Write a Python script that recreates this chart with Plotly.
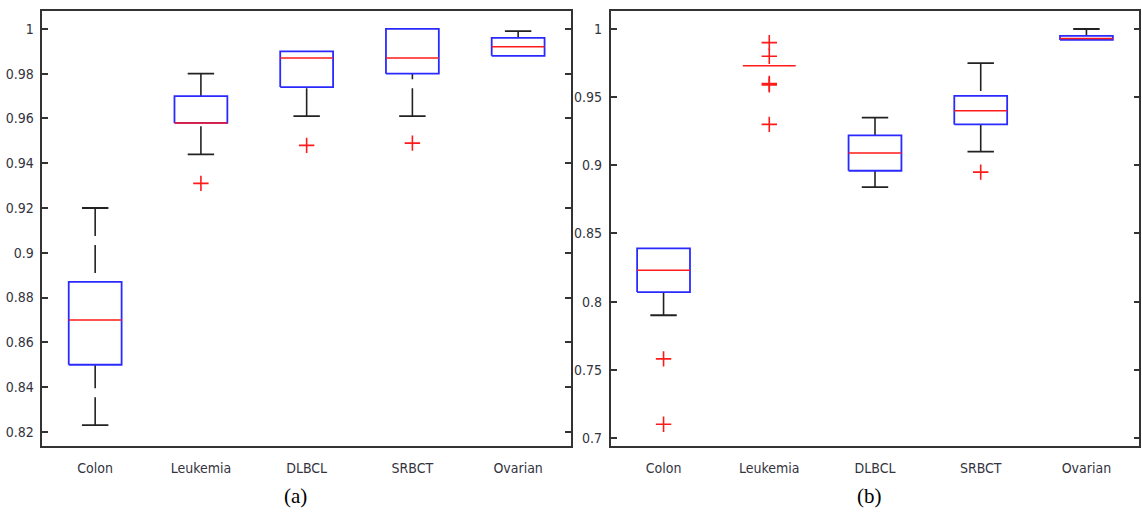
import plotly.graph_objects as go

categories = ["Colon", "Leukemia", "DLBCL", "SRBCT", "Ovarian"]

# Panel (a)
a_lo = [0.823, 0.944, 0.961, 0.961, 0.988]
a_q1 = [0.850, 0.958, 0.974, 0.980, 0.988]
a_med = [0.870, 0.958, 0.987, 0.987, 0.992]
a_q3 = [0.887, 0.970, 0.990, 1.000, 0.996]
a_hi = [0.920, 0.980, 0.990, 1.000, 0.999]
a_out = [[], [0.931], [0.948], [0.949], []]

# Panel (b)
b_lo = [0.790, 0.973, 0.884, 0.910, 0.992]
b_q1 = [0.807, 0.973, 0.896, 0.930, 0.992]
b_med = [0.823, 0.973, 0.909, 0.940, 0.993]
b_q3 = [0.839, 0.973, 0.922, 0.951, 0.995]
b_hi = [0.839, 0.973, 0.935, 0.975, 1.000]
b_out = [[0.758, 0.710], [0.990, 0.980, 0.960, 0.959, 0.930], [], [0.895], []]

a_ticks = [0.82, 0.84, 0.86, 0.88, 0.90, 0.92, 0.94, 0.96, 0.98, 1.00]
a_ticktext = ["0.82", "0.84", "0.86", "0.88", "0.9", "0.92", "0.94", "0.96", "0.98", "1"]
b_ticks = [0.70, 0.75, 0.80, 0.85, 0.90, 0.95, 1.00]
b_ticktext = ["0.7", "0.75", "0.8", "0.85", "0.9", "0.95", "1"]

BOX_HALF = 0.25
CAP_HALF = 0.125
BLUE = "#2a2aff"
RED = "#ff1a1a"
BLACK = "#222222"
TICKFONT = dict(family="DejaVu Sans Condensed, Liberation Sans Narrow, Arial Narrow, sans-serif",
                size=14, color="#333340")

fig = go.Figure()


def add_panel(lo, q1, med, q3, hi, outs, xa, ya):
    xs = list(range(1, len(categories) + 1))
    stem_x, stem_y, cap_x, cap_y = [], [], [], []
    box_x, box_y, med_x, med_y, out_x, out_y = [], [], [], [], [], []
    for i, x in enumerate(xs):
        if hi[i] > q3[i]:
            stem_x += [x, x, None]
            stem_y += [hi[i], q3[i], None]
            cap_x += [x - CAP_HALF, x + CAP_HALF, None]
            cap_y += [hi[i], hi[i], None]
        if lo[i] < q1[i]:
            stem_x += [x, x, None]
            stem_y += [lo[i], q1[i], None]
            cap_x += [x - CAP_HALF, x + CAP_HALF, None]
            cap_y += [lo[i], lo[i], None]
        if q3[i] > q1[i]:
            box_x += [x - BOX_HALF, x + BOX_HALF, x + BOX_HALF, x - BOX_HALF, x - BOX_HALF, None]
            box_y += [q1[i], q1[i], q3[i], q3[i], q1[i], None]
        med_x += [x - BOX_HALF, x + BOX_HALF, None]
        med_y += [med[i], med[i], None]
        for v in outs[i]:
            out_x.append(x)
            out_y.append(v)
    common = dict(xaxis=xa, yaxis=ya, showlegend=False, hoverinfo="skip")
    fig.add_trace(go.Scatter(x=stem_x, y=stem_y, mode="lines",
                             line=dict(color=BLACK, width=1.6, dash="28px,9px"), **common))
    fig.add_trace(go.Scatter(x=cap_x, y=cap_y, mode="lines",
                             line=dict(color=BLACK, width=1.8), **common))
    fig.add_trace(go.Scatter(x=box_x, y=box_y, mode="lines",
                             line=dict(color=BLUE, width=1.8), **common))
    fig.add_trace(go.Scatter(x=med_x, y=med_y, mode="lines",
                             line=dict(color=RED, width=1.6), **common))
    fig.add_trace(go.Scatter(x=out_x, y=out_y, mode="markers",
                             marker=dict(symbol="cross-thin", size=11,
                                         line=dict(color=RED, width=1.6)), **common))


add_panel(a_lo, a_q1, a_med, a_q3, a_hi, a_out, "x", "y")
add_panel(b_lo, b_q1, b_med, b_q3, b_hi, b_out, "x2", "y2")

xcommon = dict(range=[0.5, 5.5], tickvals=[1, 2, 3, 4, 5], ticktext=categories,
               ticks="", showgrid=False, zeroline=False, showline=True, mirror=True,
               linecolor="#333333", linewidth=1.6, tickfont=TICKFONT, ticklabelstandoff=8)
ycommon = dict(ticks="inside", ticklen=6, tickwidth=1.5, tickcolor="#333333",
               showgrid=False, zeroline=False, showline=True, mirror="ticks",
               linecolor="#333333", linewidth=1.6, tickfont=TICKFONT, ticklabelstandoff=4)

Y_DOM = [1 - 446 / 517, 1 - 11 / 517]
LABELFONT = dict(family="Liberation Serif, Times New Roman, serif", size=21, color="black")

fig.update_layout(
    width=1142, height=517,
    margin=dict(l=0, r=0, t=0, b=0),
    paper_bgcolor="white", plot_bgcolor="white",
    xaxis=dict(domain=[42.3 / 1142, 571 / 1142], anchor="y", **xcommon),
    yaxis=dict(domain=Y_DOM, anchor="x", range=[0.8137, 1.008],
               tickvals=a_ticks, ticktext=a_ticktext, **ycommon),
    xaxis2=dict(domain=[610.7 / 1142, 1139.3 / 1142], anchor="y2", **xcommon),
    yaxis2=dict(domain=Y_DOM, anchor="x2", range=[0.6941, 1.0132],
                tickvals=b_ticks, ticktext=b_ticktext, **ycommon),
    annotations=[
        dict(text="(a)", x=296 / 1142, y=1 - 496 / 517, xref="paper", yref="paper",
             xanchor="center", yanchor="middle", showarrow=False, font=LABELFONT),
        dict(text="(b)", x=869 / 1142, y=1 - 496 / 517, xref="paper", yref="paper",
             xanchor="center", yanchor="middle", showarrow=False, font=LABELFONT),
    ],
)

fig.write_html("out.html", config={"displayModeBar": False},
               post_script="document.body.style.margin='0';document.body.style.overflow='hidden';")
